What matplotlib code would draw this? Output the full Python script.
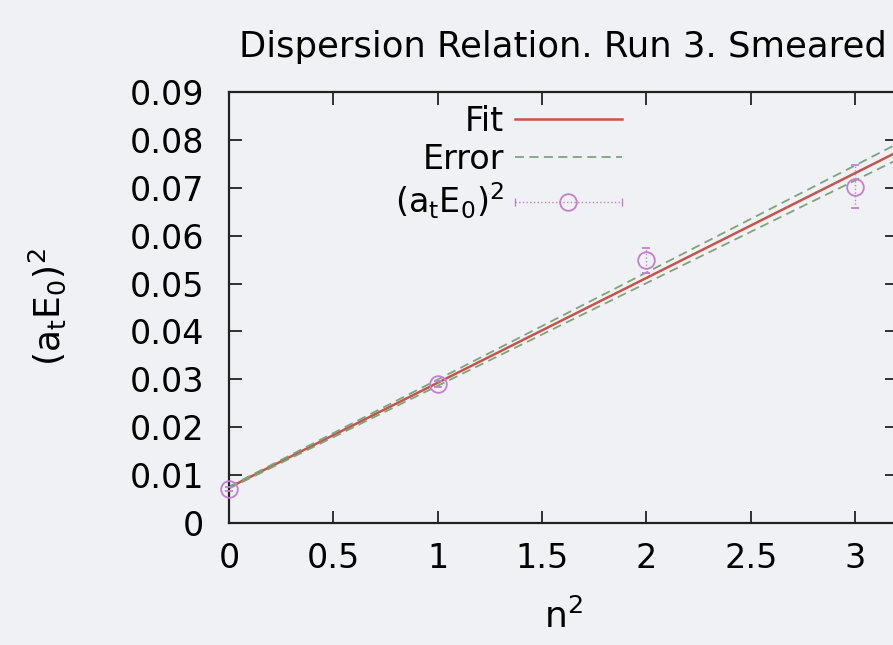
import numpy as np
import matplotlib
matplotlib.use("Agg")
import matplotlib.pyplot as plt
from matplotlib.lines import Line2D
from matplotlib.legend_handler import HandlerLine2D, HandlerTuple

plt.rcParams['font.family'] = ['DejaVu Sans']
plt.rcParams['mathtext.default'] = 'regular'

# measured energies vs momentum squared
n2 = [0, 1, 2, 3]
energy2 = [0.0071, 0.0290, 0.0549, 0.0702]
energy2_err = [0.0004, 0.0006, 0.0026, 0.0045]

# linear fit (a + b*n^2) and its error band
fit_a, fit_b = 0.0074, 0.02189
err_hi_a, err_hi_b = 0.0076, 0.02236
err_lo_a, err_lo_b = 0.0072, 0.02145

bg = '#eff1f4'
fit_col = '#c4554a'
err_col = '#7fa47c'
pt_col = '#c47fcf'
fs = 24

fig = plt.figure(figsize=(8.93, 6.45), dpi=100, facecolor=bg)
ax = fig.add_axes([0.2564, 0.1891, 0.7481, 0.6683], facecolor=bg)

xs = np.linspace(0, 3.2, 50)
fit_line, = ax.plot(xs, fit_a + fit_b * xs, color=fit_col, lw=1.8)
ax.plot(xs, err_hi_a + err_hi_b * xs, color=err_col, lw=1.3, ls=(0, (5, 3)))
err_line, = ax.plot(xs, err_lo_a + err_lo_b * xs, color=err_col, lw=1.3, ls=(0, (5, 3)))

eb = ax.errorbar(n2, energy2, yerr=energy2_err, fmt='o', ms=12, mfc='none',
                 mec=pt_col, mew=1.3, ecolor=pt_col, elinewidth=1, capsize=3,
                 capthick=1, clip_on=False, zorder=3)
eb[2][0].set_linestyle(':')

ax.set_xlim(0, 3.2)
ax.set_ylim(0, 0.09)
ax.set_xticks([0, 0.5, 1, 1.5, 2, 2.5, 3])
ax.set_xticklabels(['0', '0.5', '1', '1.5', '2', '2.5', '3'])
ax.set_yticks(np.arange(0, 0.0901, 0.01))
ax.set_yticklabels(['0'] + ['%.2f' % v for v in np.arange(0.01, 0.0901, 0.01)])
ax.tick_params(direction='in', length=9, width=1.3, labelsize=fs,
               top=True, right=True, color='#222222')
ax.tick_params(axis='x', pad=14)
ax.tick_params(axis='y', pad=18)
for sp in ax.spines.values():
    sp.set_linewidth(1.6)
    sp.set_color('#222222')

ax.set_title('Dispersion Relation. Run 3. Smeared', fontsize=25.5, pad=25)
ax.set_xlabel('$n^2$', fontsize=26, labelpad=17)
ax.set_ylabel('$(a_tE_0)^2$', fontsize=26, labelpad=44)

# legend entry for the points: dotted bar with end caps and a circle
pt_handle = Line2D([], [], color=pt_col, ls=':', lw=1, marker='o', ms=12,
                   mfc='none', mew=1.3)
cap_handle = Line2D([], [], color=pt_col, ls='none', marker='|', ms=6, mew=1)
leg = ax.legend([fit_line, err_line, (pt_handle, cap_handle)],
                ['Fit', 'Error', '$(a_tE_0)^2$'],
                handler_map={cap_handle: HandlerLine2D(numpoints=2, marker_pad=0),
                             tuple: HandlerTuple(ndivide=1, pad=0)},
                loc='upper right', bbox_to_anchor=(0.588, 0.97),
                markerfirst=False, frameon=False, fontsize=fs,
                handlelength=3.2, handletextpad=0.33, labelspacing=0.15,
                numpoints=1, borderpad=0, borderaxespad=0)

fig.savefig('out.png', dpi=100, facecolor=bg)
